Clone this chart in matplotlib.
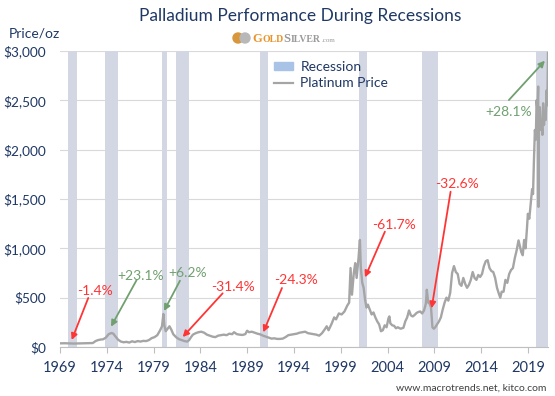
import matplotlib
matplotlib.use('Agg')
import matplotlib.pyplot as plt
from matplotlib.patches import Patch, Ellipse
from matplotlib.lines import Line2D

# Palladium price (USD/oz)
years = [1969.0, 1969.5, 1970.0, 1970.5, 1971.0, 1971.5, 1972.0, 1972.5, 1972.8, 1973.0,
         1973.3, 1973.6, 1973.9, 1974.2, 1974.5, 1974.7, 1974.9, 1975.2, 1975.5, 1975.8,
         1976.1, 1976.4, 1976.7, 1977.0, 1977.3, 1977.6, 1977.9, 1978.2, 1978.5, 1978.8,
         1979.1, 1979.4, 1979.7, 1979.9, 1980.05, 1980.15, 1980.3, 1980.5, 1980.7, 1980.9,
         1981.1, 1981.4, 1981.7, 1982.0, 1982.3, 1982.6, 1982.8, 1983.0, 1983.2, 1983.5,
         1983.8, 1984.1, 1984.4, 1984.7, 1985.0, 1985.3, 1985.6, 1985.9, 1986.2, 1986.5,
         1986.8, 1987.1, 1987.4, 1987.6, 1987.9, 1988.2, 1988.5, 1988.8, 1989.0, 1989.2,
         1989.5, 1989.8, 1990.1, 1990.4, 1990.7, 1991.0, 1991.3, 1991.6, 1991.9, 1992.2,
         1992.5, 1992.8, 1993.1, 1993.4, 1993.7, 1994.0, 1994.3, 1994.6, 1994.9, 1995.2,
         1995.5, 1995.8, 1996.1, 1996.4, 1996.7, 1997.0, 1997.3, 1997.5, 1997.7, 1998.0,
         1998.3, 1998.5, 1998.8, 1999.1, 1999.4, 1999.7, 1999.9, 2000.05, 2000.2, 2000.4,
         2000.55, 2000.7, 2000.9, 2001.05, 2001.15, 2001.3, 2001.45, 2001.6, 2001.75, 2001.9,
         2002.1, 2002.3, 2002.5, 2002.7, 2002.9, 2003.1, 2003.3, 2003.5, 2003.7, 2003.9,
         2004.1, 2004.2, 2004.3, 2004.5, 2004.7, 2004.9, 2005.1, 2005.4, 2005.7, 2005.9,
         2006.1, 2006.3, 2006.5, 2006.7, 2006.9, 2007.1, 2007.3, 2007.5, 2007.7, 2007.9,
         2008.1, 2008.2, 2008.35, 2008.5, 2008.65, 2008.8, 2008.95, 2009.1, 2009.3, 2009.5,
         2009.7, 2009.9, 2010.1, 2010.3, 2010.5, 2010.7, 2010.9, 2011.1, 2011.3, 2011.5,
         2011.7, 2011.9, 2012.1, 2012.3, 2012.5, 2012.7, 2012.9, 2013.1, 2013.3, 2013.5,
         2013.7, 2013.9, 2014.1, 2014.3, 2014.5, 2014.7, 2014.9, 2015.1, 2015.3, 2015.5,
         2015.7, 2015.9, 2016.05, 2016.2, 2016.4, 2016.6, 2016.8, 2017.0, 2017.2, 2017.4,
         2017.6, 2017.8, 2018.0, 2018.15, 2018.3, 2018.45, 2018.6, 2018.75, 2018.9, 2019.0,
         2019.15, 2019.3, 2019.45, 2019.55, 2019.65, 2019.75, 2019.85, 2019.93, 2020.02, 2020.1,
         2020.13, 2020.18, 2020.28, 2020.38, 2020.46, 2020.55, 2020.63, 2020.72, 2020.8, 2020.9,
         2021.0, 2021.08, 2021.15]
prices = [37, 38, 36, 35, 36, 37, 38, 40, 60, 68,
          75, 78, 95, 130, 142, 135, 110, 75, 55, 48,
          52, 45, 58, 50, 60, 55, 62, 60, 70, 90,
          100, 120, 170, 210, 335, 220, 160, 185, 210, 175,
          130, 100, 80, 70, 60, 55, 70, 100, 125, 140,
          150, 155, 145, 125, 115, 105, 100, 115, 120, 125,
          120, 135, 130, 150, 130, 125, 122, 130, 165, 150,
          155, 145, 135, 128, 115, 105, 95, 85, 88, 82,
          82, 85, 100, 120, 125, 130, 135, 145, 150, 155,
          140, 135, 130, 125, 115, 140, 180, 210, 170, 230,
          300, 280, 340, 330, 360, 420, 450, 800, 530, 750,
          850, 700, 900, 1085, 800, 650, 600, 480, 400, 430,
          380, 330, 350, 300, 260, 230, 160, 170, 220, 200,
          290, 310, 240, 220, 215, 190, 200, 185, 195, 260,
          300, 370, 320, 310, 325, 345, 355, 360, 340, 370,
          440, 580, 450, 440, 400, 200, 185, 200, 230, 260,
          300, 380, 450, 500, 470, 550, 750, 820, 760, 740,
          640, 620, 700, 640, 600, 630, 680, 760, 700, 680,
          730, 710, 740, 820, 870, 880, 800, 770, 760, 700,
          600, 540, 500, 560, 560, 680, 650, 740, 780, 800,
          900, 980, 1080, 1020, 960, 930, 1085, 1000, 1200, 1350,
          1300, 1450, 1600, 1550, 1900, 2200, 2100, 2500, 2400, 2640,
          1420, 2200, 2430, 2200, 2300, 2150, 2470, 2250, 2370, 2300,
          2600, 2450, 2980]

# US recessions (start, end)
rec_start = [1969.85, 1973.77, 1979.9, 1981.4, 1990.4, 2001.0, 2007.7, 2019.82]
rec_end = [1970.85, 1975.16, 1980.46, 1982.8, 1991.2, 2001.8, 2009.35, 2021.15]

# annotations: label, text position, arrow start, arrow end
ann_labels = ['-1.4%', '+23.1%', '+6.2%', '-31.4%', '-24.3%', '-61.7%', '-32.6%', '+28.1%']
ann_text = [(1972.69, 571), (1977.65, 720), (1982.68, 750), (1987.46, 608),
            (1994.21, 679), (2004.72, 1236), (2011.45, 1652), (2016.99, 2379)]
ann_from = [(1972.02, 497), (1977.19, 679), (1981.82, 672), (1986.38, 544),
            (1992.72, 598), (2003.72, 1169), (2010.74, 1574), (2016.97, 2503)]
ann_to = [(1970.25, 71), (1974.45, 206), (1980.11, 365), (1982.11, 101),
          (1990.72, 149), (2001.59, 706), (2008.71, 392), (2020.82, 2902)]

xticks = list(range(1969, 2020, 5))
yticks = [0, 500, 1000, 1500, 2000, 2500, 3000]
ytick_labels = ['$0', '$500', '$1,000', '$1,500', '$2,000', '$2,500', '$3,000']

navy = '#1F3864'
red = '#FF3535'
green = '#70A070'
plt.rcParams['font.family'] = ['Lato', 'DejaVu Sans']

W, H = 555, 396
fig = plt.figure(figsize=(W / 100, H / 100), dpi=100)
ax = fig.add_axes([60 / W, (H - 347) / H, (548 - 60) / W, (347 - 51) / H])

for s, e in zip(rec_start, rec_end):
    ax.axvspan(s, e, color='#D3D7E4', lw=0, zorder=1)

ax.plot(years, prices, color='#A5A5A5', lw=1.7, zorder=3)

ax.set_xlim(1969, 2021.15)
ax.set_ylim(0, 3000)
ax.set_xticks(xticks)
ax.set_yticks(yticks)
ax.set_yticklabels(ytick_labels)
ax.grid(axis='y', color='#D9D9D9', lw=0.8, zorder=0)
ax.set_axisbelow(True)
for side in ['top', 'right', 'left']:
    ax.spines[side].set_visible(False)
ax.spines['bottom'].set_color('#BFBFBF')
ax.tick_params(axis='x', length=4, color='#BFBFBF', pad=6, labelsize=10.5, labelcolor=navy)
ax.tick_params(axis='y', length=0, pad=10, labelsize=9.8, labelcolor=navy)

for lab, t, a, b in zip(ann_labels, ann_text, ann_from, ann_to):
    c = green if lab.startswith('+') else red
    ax.text(t[0], t[1], lab, color=c, fontsize=10, ha='center', va='center', zorder=5)
    ax.annotate('', xy=b, xytext=a,
                arrowprops=dict(arrowstyle='-|>', color=c, lw=1.3, mutation_scale=9,
                                shrinkA=0, shrinkB=0), zorder=5)

handles = [Patch(color='#A9C3E6'), Line2D([], [], color='#A5A5A5', lw=1.6)]
leg = ax.legend(handles, ['Recession', 'Platinum Price'], loc='upper left',
                bbox_to_anchor=(267 / W, (H - 54) / H), bbox_transform=fig.transFigure,
                frameon=False, fontsize=10, handlelength=1.4, handleheight=0.55,
                handletextpad=0.5, labelspacing=0.3, borderpad=0)
for txt in leg.get_texts():
    txt.set_color(navy)

fig.text(300 / W, 1 - 16 / H, 'Palladium Performance During Recessions', color=navy,
         fontsize=12.5, ha='center', va='center')
fig.text(34 / W, 1 - 33 / H, 'Price/oz', color=navy, fontsize=10, ha='center', va='center')

# GoldSilver logo: coins plus small-caps wordmark laid out piece by piece
fig.patches.append(Ellipse((238 / W, 1 - 38 / H), 10 / W, 10 / H, transform=fig.transFigure,
                           color='#D9963A', zorder=5))
fig.patches.append(Ellipse((245 / W, 1 - 38 / H), 10 / W, 10 / H, transform=fig.transFigure,
                           color='#B8B8B8', zorder=6))
renderer = fig.canvas.get_renderer()
pieces = [('G', '#E8942A', 9, 'bold'), ('OLD', '#E8942A', 7, 'bold'),
          ('S', '#9A9A9A', 9, 'bold'), ('ILVER', '#9A9A9A', 7, 'bold'),
          ('.com', '#9A9A9A', 5, 'normal')]
xpos = 252
for s, c, size, wt in pieces:
    t = fig.text(xpos / W, 1 - 41.5 / H, s, color=c, fontsize=size, family='Liberation Serif',
                 weight=wt, va='baseline', ha='left')
    xpos += t.get_window_extent(renderer).width + 0.3

fig.text(546 / W, 1 - 388 / H, 'www.macrotrends.net, kitco.com', color='#404040',
         fontsize=7.5, ha='right', va='center')

fig.savefig('out.png', dpi=100)
